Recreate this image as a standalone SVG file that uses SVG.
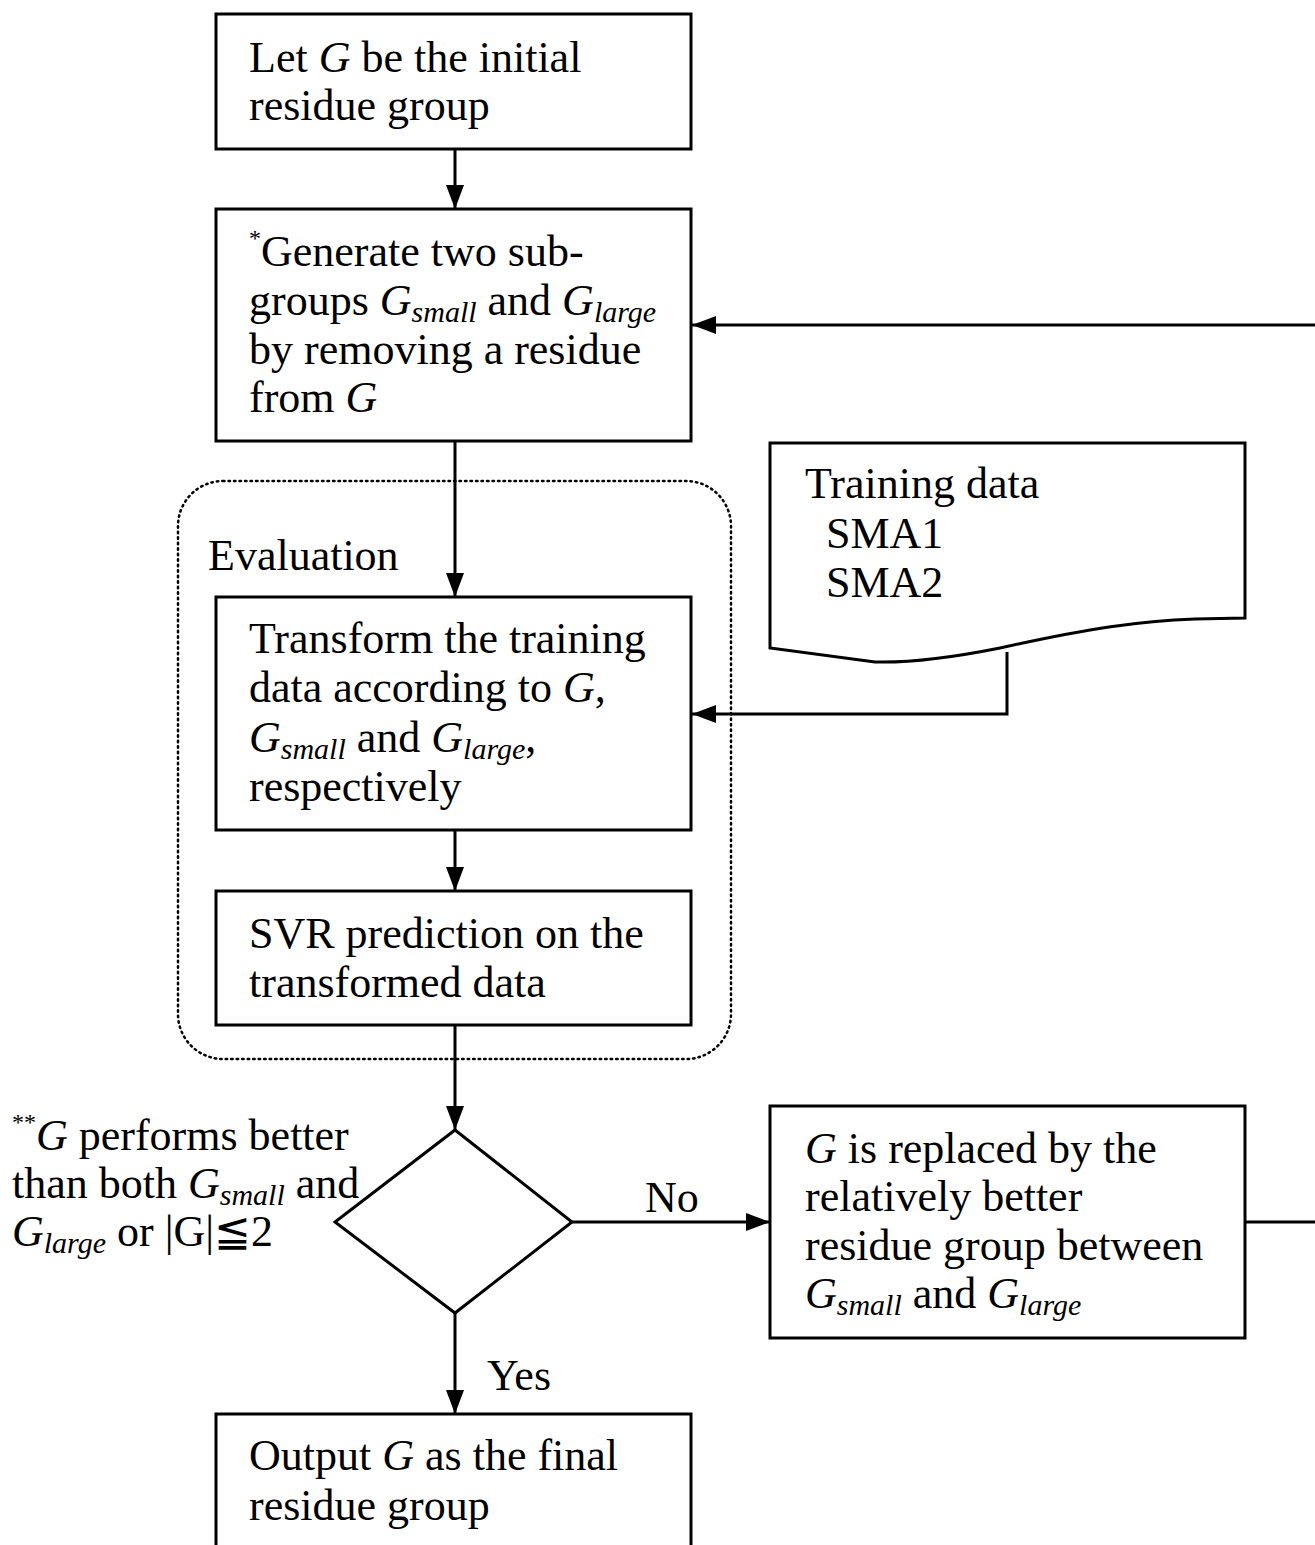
<svg xmlns="http://www.w3.org/2000/svg" width="1315" height="1545" viewBox="0 0 1315 1545">
<style>
  .box{fill:#fff;stroke:#000;stroke-width:3}
  .ln{fill:none;stroke:#000;stroke-width:3}
  .t{font-family:"Liberation Serif","Times New Roman",serif;font-size:44px;fill:#000}
  .i{font-style:italic}
  .sub{font-style:italic;font-size:30px}
  .sup{font-size:24px}
</style>
<defs>
  <marker id="ah" markerWidth="24" markerHeight="18" refX="24" refY="9" orient="auto" markerUnits="userSpaceOnUse">
    <path d="M0,0 L24,9 L0,18 Z" fill="#000"/>
  </marker>
</defs>
<rect width="1315" height="1545" fill="#fff"/>

<g id="evaluation">
  <rect x="178" y="481" width="553" height="578" rx="45" ry="45" fill="none" stroke="#000" stroke-width="2.5" stroke-dasharray="1.5 4" stroke-linecap="round"/>
  <text class="t" x="208" y="570">Evaluation</text>
</g>

<g id="connectors">
  <line class="ln" x1="455" y1="149" x2="455" y2="209" marker-end="url(#ah)"/>
  <line class="ln" x1="455" y1="441" x2="455" y2="597" marker-end="url(#ah)"/>
  <line class="ln" x1="455" y1="830" x2="455" y2="891" marker-end="url(#ah)"/>
  <line class="ln" x1="455" y1="1025" x2="455" y2="1130" marker-end="url(#ah)"/>
  <line class="ln" x1="455" y1="1313" x2="455" y2="1414" marker-end="url(#ah)"/>
  <line class="ln" x1="572" y1="1222" x2="770" y2="1222" marker-end="url(#ah)"/>
  <polyline class="ln" points="1007,652 1007,714 692,714" marker-end="url(#ah)"/>
  <polyline class="ln" points="1245,1222 1330,1222 1330,325 692,325" marker-end="url(#ah)"/>
  <text class="t" x="645" y="1212">No</text>
  <text class="t" x="487" y="1390">Yes</text>
</g>

<g id="n1">
  <rect class="box" x="216" y="14" width="475" height="135"/>
  <text class="t" x="249" y="72">Let <tspan class="i">G</tspan> be the initial</text>
  <text class="t" x="249" y="120">residue group</text>
</g>

<g id="n2">
  <rect class="box" x="216" y="209" width="475" height="232"/>
  <text class="t" x="249" y="266"><tspan class="sup" dy="-20">*</tspan><tspan dy="20">Generate two sub-</tspan></text>
  <text class="t" x="249" y="315">groups <tspan class="i">G</tspan><tspan class="sub" dy="7">small</tspan><tspan dy="-7"> and </tspan><tspan class="i">G</tspan><tspan class="sub" dy="7">large</tspan></text>
  <text class="t" x="249" y="364">by removing a residue</text>
  <text class="t" x="249" y="412">from <tspan class="i">G</tspan></text>
</g>

<g id="n3">
  <rect class="box" x="216" y="597" width="475" height="233"/>
  <text class="t" x="249" y="653">Transform the training</text>
  <text class="t" x="249" y="702">data according to <tspan class="i">G</tspan>,</text>
  <text class="t" x="249" y="752"><tspan class="i">G</tspan><tspan class="sub" dy="7">small</tspan><tspan dy="-7"> and </tspan><tspan class="i">G</tspan><tspan class="sub" dy="7">large</tspan><tspan dy="-7">,</tspan></text>
  <text class="t" x="249" y="801">respectively</text>
</g>

<g id="training">
  <path class="box" d="M770,443 L1245,443 L1245,618 L1195,619 C1140,621 1090,628 1000,648 C950,658 910,663 875,662 L770,648 Z"/>
  <text class="t" x="805" y="498">Training data</text>
  <text class="t" x="826" y="548">SMA1</text>
  <text class="t" x="826" y="597">SMA2</text>
</g>

<g id="n4">
  <rect class="box" x="216" y="891" width="475" height="134"/>
  <text class="t" x="249" y="948">SVR prediction on the</text>
  <text class="t" x="249" y="997">transformed data</text>
</g>

<g id="decision">
  <polygon class="box" points="455,1130 572,1222 455,1313 335,1222"/>
  <text class="t" x="12" y="1150"><tspan class="sup" dy="-20">**</tspan><tspan class="i" dy="20">G</tspan> performs better</text>
  <text class="t" x="12" y="1198">than both <tspan class="i">G</tspan><tspan class="sub" dy="7">small</tspan><tspan dy="-7"> and</tspan></text>
  <text class="t" x="12" y="1246"><tspan class="i">G</tspan><tspan class="sub" dy="7">large</tspan><tspan dy="-7"> or |G|≦2</tspan></text>
</g>

<g id="n5">
  <rect class="box" x="770" y="1106" width="475" height="232"/>
  <text class="t" x="805" y="1163"><tspan class="i">G</tspan> is replaced by the</text>
  <text class="t" x="805" y="1211">relatively better</text>
  <text class="t" x="805" y="1260">residue group between</text>
  <text class="t" x="805" y="1308"><tspan class="i">G</tspan><tspan class="sub" dy="7">small</tspan><tspan dy="-7"> and </tspan><tspan class="i">G</tspan><tspan class="sub" dy="7">large</tspan></text>
</g>

<g id="n6">
  <rect class="box" x="216" y="1414" width="475" height="160"/>
  <text class="t" x="249" y="1470">Output <tspan class="i">G</tspan> as the final</text>
  <text class="t" x="249" y="1520">residue group</text>
</g>
</svg>
